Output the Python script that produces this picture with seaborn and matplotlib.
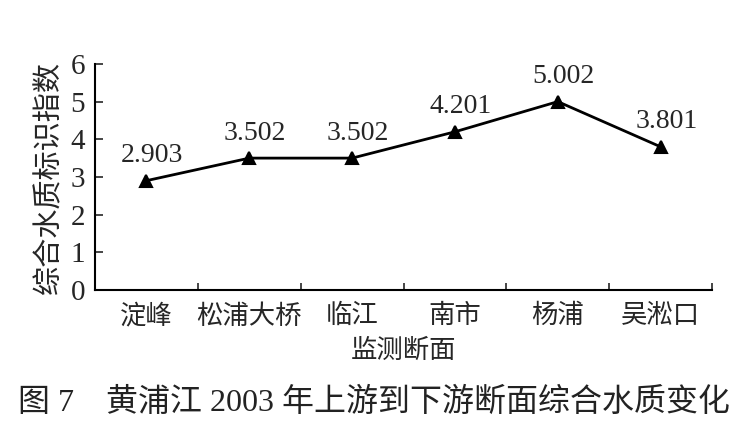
import numpy as np
import pandas as pd
import matplotlib
matplotlib.use("Agg")
import matplotlib.pyplot as plt
import seaborn as sns

# data
sites = ["淀峰", "松浦大桥", "临江", "南市", "杨浦", "吴淞口"]
index_vals = [2.903, 3.502, 3.502, 4.201, 5.002, 3.801]
value_labels = ["2.903", "3.502", "3.502", "4.201", "5.002", "3.801"]
yticks = [0, 1, 2, 3, 4, 5, 6]

sns.set_style("white")
fam = ["Liberation Serif", "Noto Sans CJK SC"]
plt.rcParams["font.family"] = fam

df = pd.DataFrame({"site": sites, "value": index_vals})

fig = plt.figure(figsize=(7.48, 4.24), dpi=100)
ax = fig.add_axes([0.127, 0.316, 0.825, 0.533])

sns.pointplot(data=df, x="site", y="value", order=sites, color="black",
              markers="^", markersize=9, linewidth=2, ax=ax)

for i, (v, lab) in enumerate(zip(index_vals, value_labels)):
    ax.annotate(lab, (i, v), xytext=(4, 9), textcoords="offset points",
                ha="center", va="bottom", fontsize=20, family=fam)

ax.set_xlim(-0.5, len(sites) - 0.5)
ax.set_ylim(0, 6)
ax.set_yticks(yticks)
ax.set_yticklabels([str(t) for t in yticks], fontsize=21)
ax.tick_params(axis="y", direction="in", length=6, width=1.2, pad=7, left=True)
ax.tick_params(axis="x", which="major", length=0, labelsize=19, pad=10)
ax.set_xticks(np.arange(len(sites)) + 0.5, minor=True)
ax.tick_params(axis="x", which="minor", direction="in", length=5, width=1.2, bottom=True)

ax.set_xlabel("监测断面", fontsize=19, labelpad=7)
ax.set_ylabel("综合水质标识指数", fontsize=21, labelpad=5)

sns.despine(ax=ax)
for s in ["left", "bottom"]:
    ax.spines[s].set_linewidth(1.5)
    ax.spines[s].set_color("black")

fig.text(0.5, 0.05, "图 7　黄浦江 2003 年上游到下游断面综合水质变化",
         ha="center", va="center", fontsize=23, family=fam, color="#222222")

fig.savefig("out.png", dpi=100, facecolor="white")
